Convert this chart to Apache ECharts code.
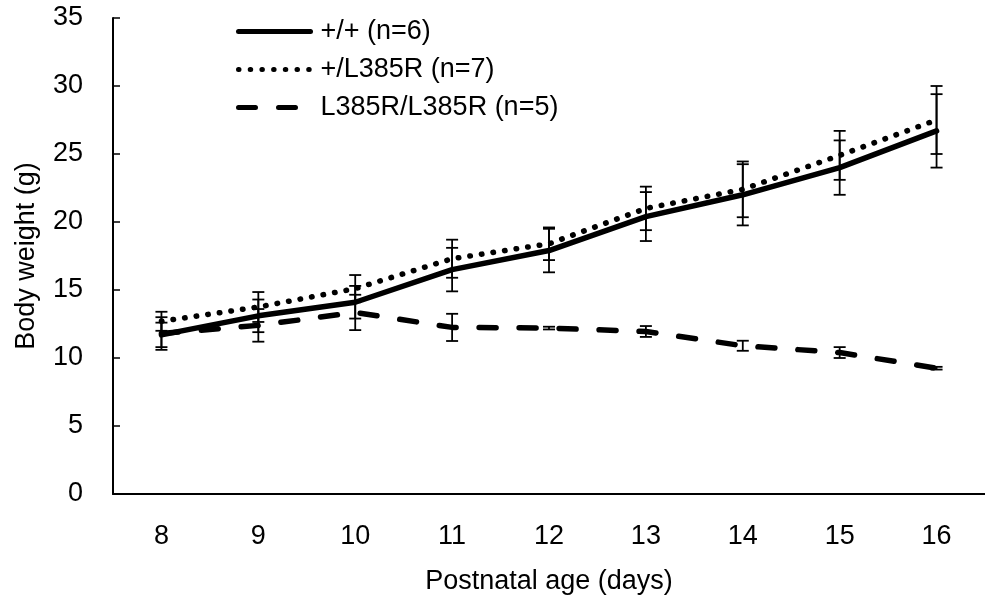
<!DOCTYPE html>
<html><head><meta charset="utf-8">
<script src="https://cdn.jsdelivr.net/npm/echarts@6/dist/echarts.min.js"></script>
<style>html,body{margin:0;padding:0;background:#fff}#c{width:985px;height:606px}</style>
</head><body><div id="c"></div>
<script>
const days = ['8', '9', '10', '11', '12', '13', '14', '15', '16'];
const seriesNames = ['+/+ (n=6)', '+/L385R (n=7)', 'L385R/L385R (n=5)'];
const wtMean  = [11.7, 13.1, 14.1, 16.5, 17.9, 20.4, 22.0, 24.0, 26.7];
const wtErr   = [0.9, 1.2, 1.2, 1.6, 1.6, 1.8, 2.25, 2.0, 2.7];
const hetMean = [12.7, 13.75, 15.1, 17.3, 18.4, 21.0, 22.4, 24.9, 27.5];
const hetErr  = [0.7, 1.1, 1.0, 1.4, 1.2, 1.6, 2.05, 1.8, 2.5];
const homMean = [11.8, 12.4, 13.35, 12.25, 12.2, 11.95, 10.9, 10.4, 9.25];
const homErr  = [1.2, 1.2, 1.3, 1.0, 0.1, 0.4, 0.37, 0.4, 0.1];
const yTicks = [0, 5, 10, 15, 20, 25, 30, 35];

const FONT = '"Liberation Sans", Arial, sans-serif';
const FS = 27;

function errData(m, e) { return m.map((v, i) => [i, v - e[i], v + e[i]]); }
function renderErr(params, api) {
  const i = api.value(0);
  const lo = api.coord([i, api.value(1)]);
  const hi = api.coord([i, api.value(2)]);
  const w = 6;
  const st = { stroke: '#000', lineWidth: 1.8 };
  return { type: 'group', children: [
    { type: 'line', shape: { x1: lo[0], y1: lo[1], x2: hi[0], y2: hi[1] }, style: st },
    { type: 'line', shape: { x1: lo[0] - w, y1: lo[1], x2: lo[0] + w, y2: lo[1] }, style: st },
    { type: 'line', shape: { x1: hi[0] - w, y1: hi[1], x2: hi[0] + w, y2: hi[1] }, style: st }
  ]};
}
function errSeries(m, e) {
  return { type: 'custom', renderItem: renderErr, data: errData(m, e),
    encode: { x: 0, y: [1, 2] }, z: 3, silent: true };
}

const chart = echarts.init(document.getElementById('c'), null, { renderer: 'canvas' });
chart.setOption({
  animation: false,
  backgroundColor: '#fff',
  textStyle: { fontFamily: FONT, color: '#000' },
  grid: { left: 113, right: 0, top: 18, bottom: 112, containLabel: false },
  legend: {
    left: 236, top: 16, padding: 0, orient: 'vertical', itemWidth: 72, itemHeight: 14, itemGap: 7,
    data: seriesNames,
    itemStyle: { opacity: 0 },
    lineStyle: { width: 5 },
    textStyle: { fontSize: FS, fontFamily: FONT, color: '#000', lineHeight: 31, padding: [0, 0, 0, 5] }
  },
  xAxis: {
    type: 'category', data: days, boundaryGap: true,
    name: 'Postnatal age (days)', nameLocation: 'middle', nameGap: 74,
    nameTextStyle: { fontSize: FS, fontFamily: FONT, color: '#000' },
    axisLine: { lineStyle: { color: '#000', width: 2 } },
    axisTick: { inside: true, length: 8, lineStyle: { color: '#000', width: 1.5 } },
    axisLabel: { fontSize: FS, fontFamily: FONT, color: '#000', margin: 29 },
    splitLine: { show: false }
  },
  yAxis: {
    type: 'value', min: 0, max: 35, interval: 5,
    name: 'Body weight (g)', nameLocation: 'middle', nameGap: 73, nameRotate: 90,
    nameTextStyle: { fontSize: FS, fontFamily: FONT, color: '#000' },
    axisLine: { show: true, lineStyle: { color: '#000', width: 2 } },
    axisTick: { show: true, inside: true, length: 7, lineStyle: { color: '#000', width: 1.5 } },
    axisLabel: { fontSize: FS, fontFamily: FONT, color: '#000', margin: 30,
      formatter: v => yTicks.includes(v) ? String(v) : '' },
    splitLine: { show: false }
  },
  series: [
    { name: seriesNames[0], type: 'line', data: wtMean, symbol: 'none', z: 4,
      lineStyle: { color: '#000', width: 5.5, type: 'solid', cap: 'round' }, itemStyle: { color: '#000' } },
    { name: seriesNames[1], type: 'line', data: hetMean, symbol: 'none', z: 4,
      lineStyle: { color: '#000', width: 5.5, type: [0.5, 11.2], cap: 'round' }, itemStyle: { color: '#000' } },
    { name: seriesNames[2], type: 'line', data: homMean, symbol: 'none', z: 4,
      lineStyle: { color: '#000', width: 5.5, type: [17, 23], cap: 'round' }, itemStyle: { color: '#000' } },
    errSeries(wtMean, wtErr),
    errSeries(hetMean, hetErr),
    errSeries(homMean, homErr)
  ]
});
</script></body></html>
